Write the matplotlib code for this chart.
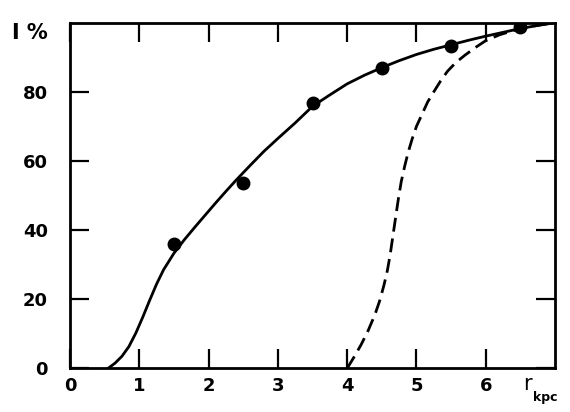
import matplotlib
matplotlib.use('Agg')
import matplotlib.pyplot as plt

# measured points
r_pts = [1.5, 2.5, 3.5, 4.5, 5.5, 6.5]
i_pts = [36.0, 53.5, 76.8, 86.8, 93.3, 98.7]

# solid curve
r_solid = [0.55, 0.65, 0.75, 0.85, 0.95, 1.05, 1.15, 1.25, 1.35, 1.5, 1.65,
           1.8, 1.95, 2.1, 2.25, 2.4, 2.6, 2.8, 3.0, 3.25, 3.5, 3.75, 4.0,
           4.25, 4.5, 4.75, 5.0, 5.25, 5.5, 5.75, 6.0, 6.25, 6.5, 6.75, 7.0]
i_solid = [0, 1.5, 3.5, 6.3, 10.2, 14.8, 19.7, 24.4, 28.5, 33.3, 37.2,
           40.8, 44.3, 47.8, 51.2, 54.5, 58.7, 62.8, 66.5, 71, 75.8, 79.1, 82.3,
           84.8, 87, 89, 90.8, 92.3, 93.6, 94.9, 96.1, 97.2, 98.3, 99.2, 100]

# dashed curve
r_dash = [4.0, 4.1, 4.2, 4.3, 4.4, 4.47, 4.53, 4.58, 4.62, 4.66, 4.7, 4.74,
          4.78, 4.83, 4.88, 4.94, 5.0, 5.08, 5.16, 5.25, 5.35, 5.45, 5.57,
          5.7, 5.85, 6.0, 6.2, 6.4, 6.6, 6.8, 7.0]
i_dash = [0, 3.3, 6.8, 10.8, 15.5, 19.6, 24, 28.3, 32.8, 38.3, 43.8, 49.2,
          54, 58.5, 62.5, 66.5, 70, 73.5, 77, 80, 83.2, 86, 88.5,
          90.6, 92.8, 94.8, 96.5, 97.7, 98.7, 99.4, 100]

x_ticks = [0, 1, 2, 3, 4, 5, 6]
y_ticks = [0, 20, 40, 60, 80]

plt.rcParams['font.family'] = 'DejaVu Sans'
plt.rcParams['font.weight'] = 'bold'

fig = plt.figure(figsize=(5.7, 4.12), dpi=100)
ax = fig.add_axes([0.1228, 0.106, 0.851, 0.839])

ax.plot(r_solid, i_solid, c='k', ls='-', lw=2.0)
ax.plot(r_dash, i_dash, c='k', ls=(0, (5, 2.5)), lw=2.0)
ax.plot(r_pts, i_pts, 'ko', ms=9)

ax.set_xlim(0, 7)
ax.set_ylim(0, 100)

ax.set_xticks(x_ticks)
ax.set_yticks(y_ticks)
ax.tick_params(direction='in', length=14, width=1.6, top=True, right=True,
               labelsize=13)
ax.tick_params(axis='x', pad=6)
ax.tick_params(axis='y', pad=16)
for s in ax.spines.values():
    s.set_linewidth(2.0)

# axis names
ax.text(-0.045, 0.97, 'I %', transform=ax.transAxes, ha='right', va='center',
        fontsize=15)
ax.text(0.935, -0.045, 'r', transform=ax.transAxes, ha='left', va='center',
        fontsize=15, fontweight='normal')
ax.text(0.955, -0.085, 'kpc', transform=ax.transAxes, ha='left', va='center',
        fontsize=9, fontweight='bold')

fig.savefig('out.png', dpi=100)
